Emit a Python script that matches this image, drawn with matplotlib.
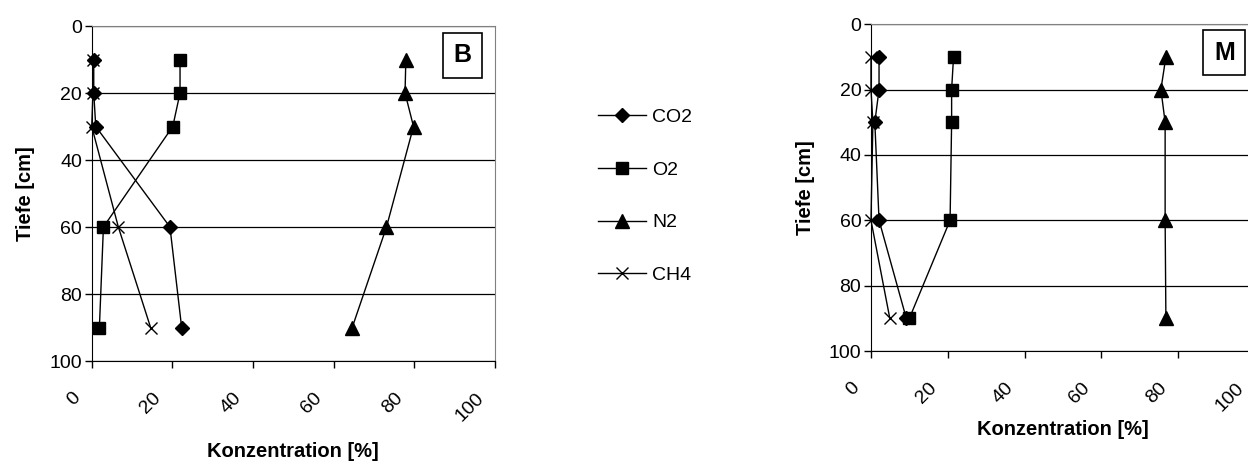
import matplotlib
matplotlib.use("Agg")
from matplotlib import pyplot as plt
from matplotlib.transforms import ScaledTranslation

plt.rcParams['font.family'] = ['Liberation Sans', 'DejaVu Sans']

depth = [10, 20, 30, 60, 90]

# site B
b_co2 = [0.5, 0.5, 1.0, 19.4, 22.3]
b_o2 = [21.9, 21.9, 20.1, 2.9, 1.9]
b_n2 = [77.9, 77.7, 79.8, 73.1, 64.6]
b_ch4 = [0.3, 0.3, 0.0, 6.6, 14.6]

# site M
m_co2 = [2.1, 2.1, 1.0, 2.1, 9.2]
m_o2 = [21.5, 21.0, 21.0, 20.6, 10.0]
m_n2 = [76.8, 75.5, 76.6, 76.6, 76.8]
m_ch4 = [0.0, 0.0, 0.5, 0.0, 4.9]

gas_names = ['CO2', 'O2', 'N2', 'CH4']
x_ticks = [0, 20, 40, 60, 80, 100]
y_ticks = [0, 20, 40, 60, 80, 100]

styles = [dict(marker='D', markersize=7),
          dict(marker='s', markersize=9),
          dict(marker='^', markersize=10),
          dict(marker='x', markersize=9, markeredgewidth=1.0)]


def draw_panel(fig, ax, series, letter, xlabel_pad):
    handles = []
    for vals, name, st in zip(series, gas_names, styles):
        h, = ax.plot(vals, depth, color='black', linewidth=1.0, label=name,
                     markerfacecolor='black', markeredgecolor='black',
                     clip_on=False, zorder=3, **st)
        handles.append(h)
    ax.set_xlim(0, 100)
    ax.set_ylim(100, 0)
    ax.set_xticks(x_ticks)
    ax.set_yticks(y_ticks)
    ax.set_xticklabels([str(v) for v in x_ticks], rotation=45, ha='right', va='top')
    ax.tick_params(axis='both', labelsize=14, length=5, width=1, direction='out', color='black')
    ax.tick_params(axis='x', pad=15.5)
    ax.tick_params(axis='y', pad=2)
    # shift the slanted labels a little to the left, like the original
    shift = ScaledTranslation(-0.08, 0, fig.dpi_scale_trans)
    for lab in ax.get_xticklabels():
        lab.set_transform(lab.get_transform() + shift)
    ax.yaxis.grid(True, color='black', linewidth=0.9)
    ax.set_axisbelow(True)
    ax.spines['top'].set_color('#808080')
    ax.spines['right'].set_color('#808080')
    ax.set_ylabel('Tiefe [cm]', fontsize=14.5, fontweight='bold', labelpad=10)
    ax.set_xlabel('Konzentration [%]', fontsize=14.5, fontweight='bold', labelpad=xlabel_pad)
    ax.text(0.92, 0.912, letter, transform=ax.transAxes, fontsize=18, fontweight='bold',
            ha='center', va='center', zorder=5,
            bbox=dict(boxstyle='square,pad=0.42', facecolor='white', edgecolor='black', linewidth=1.2))
    return handles


fig = plt.figure(figsize=(12.48, 4.61), dpi=100)
ax_b = fig.add_axes([0.0735, 0.2169, 0.3231, 0.7267])
ax_m = fig.add_axes([0.6979, 0.2386, 0.3077, 0.709])

handles = draw_panel(fig, ax_b, [b_co2, b_o2, b_n2, b_ch4], 'B', 12.5)
draw_panel(fig, ax_m, [m_co2, m_o2, m_n2, m_ch4], 'M', 4)

fig.legend(handles=handles, labels=gas_names, loc='upper left',
           bbox_to_anchor=(580 / 1248, 1 - 91 / 461), frameon=False,
           fontsize=14, handlelength=2.5, handletextpad=0.3, labelspacing=1.8)

fig.savefig('out.png', dpi=100)
